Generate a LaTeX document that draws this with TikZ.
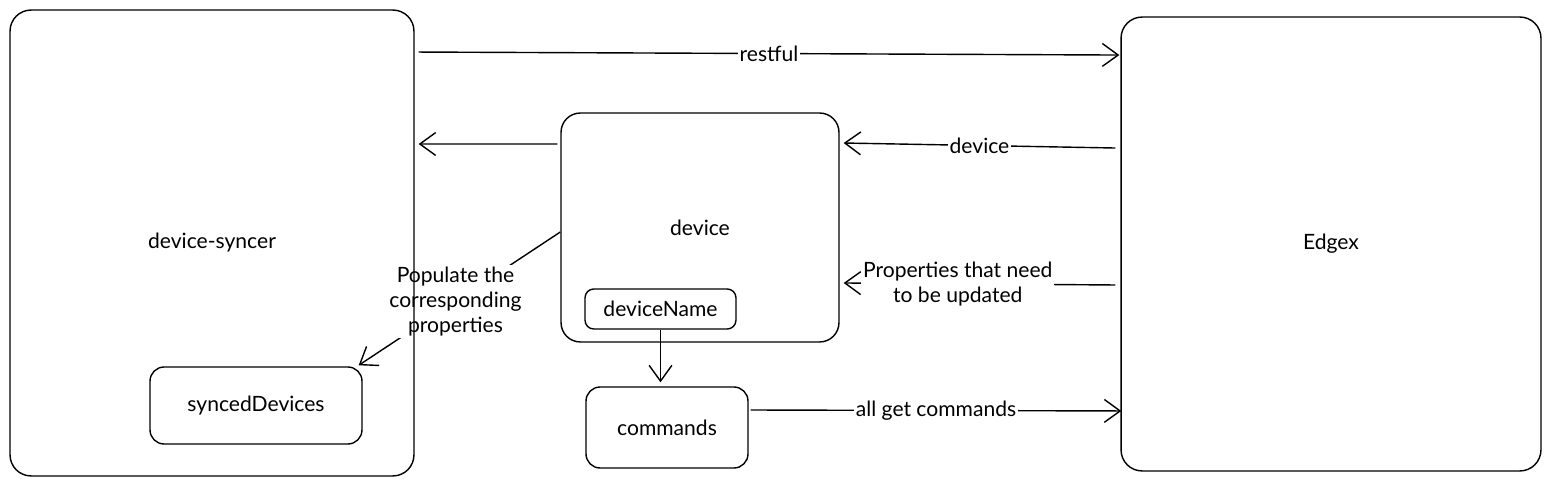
\documentclass[tikz,border=0pt]{standalone}
\usepackage{fontspec}
\setmainfont{Lato}
\usetikzlibrary{arrows.meta, backgrounds}

\begin{document}
\begin{tikzpicture}[x=0.02cm, y=-0.02cm,
    box/.style={draw, line width=0.8pt, font=\fontsize{12}{14.2}\selectfont},
    conn/.style={line width=0.8pt, -{Straight Barb[length=9pt, width=13pt]}},
    lbl/.style={fill=white, inner sep=1pt, align=center, font=\fontsize{12}{14.2}\selectfont}]
    \useasboundingbox (0,0) rectangle (1552,486);

    \node [box, rounded corners=12pt, minimum width=8.08cm, minimum height=9.32cm] (syncer) at (212,243) {device-syncer};
    \node [box, rounded corners=12pt, minimum width=8.4cm, minimum height=9.08cm] (edgex) at (1331,244) {Edgex};
    \node [box, rounded corners=11pt, minimum width=5.56cm, minimum height=4.58cm] (device) at (700,227.5) {device};
    \node [box, rounded corners=5pt, minimum width=3.02cm, minimum height=0.8cm] (name) at (660.5,309) {deviceName};
    \node [box, rounded corners=8pt, minimum width=3.24cm, minimum height=1.62cm] (commands) at (667,427.5) {commands};
    \node [box, rounded corners=8pt, minimum width=4.24cm, minimum height=1.54cm] (synced) at (256,405.5) {syncedDevices};

    \draw [conn] ([xshift=0.08cm, yshift=3.82cm]syncer.east) -- node [lbl] {restful} ([xshift=-0.02cm, yshift=3.78cm]edgex.west);
    \draw [conn] ([xshift=-0.06cm, yshift=1.67cm]device.west) -- ([xshift=0.08cm, yshift=1.98cm]syncer.east);
    \draw [conn] ([xshift=-0.1cm, yshift=1.92cm]edgex.west) -- node [lbl] {device} ([xshift=0.08cm, yshift=1.69cm]device.east);
    \draw [conn] ([xshift=-0.1cm, yshift=-0.82cm]edgex.west) -- node [lbl, pos=0.58] {Properties that need\\to be updated} ([xshift=0.08cm, yshift=-1.11cm]device.east);
    \begin{pgfonlayer}{background}
    \draw [conn] ([yshift=-0.09cm]device.west) -- node [lbl, pos=0.52] {Populate the\\corresponding\\properties} ([xshift=-0.08cm, yshift=0.02cm]synced.north east);
    \end{pgfonlayer}
    \draw [conn, shorten >=0.08cm] (name.south) -- (name.south |- commands.north);
    \draw [conn] ([xshift=0.04cm, yshift=0.35cm]commands.east) -- node [lbl] {all get commands} ([xshift=0.02cm, yshift=-3.34cm]edgex.west);

\end{tikzpicture}
\end{document}
